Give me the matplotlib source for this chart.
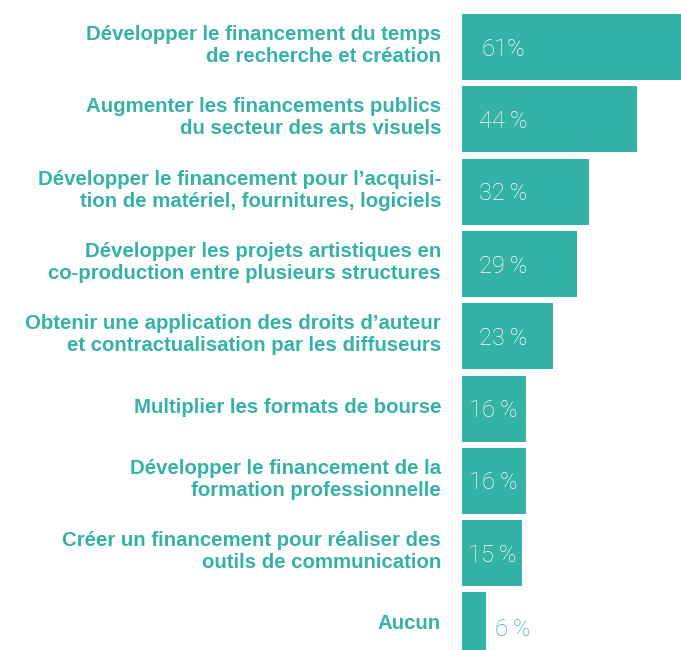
import matplotlib
matplotlib.use("Agg")
import matplotlib.pyplot as plt

categories = [
    "Développer le financement du temps\nde recherche et création",
    "Augmenter les financements publics\ndu secteur des arts visuels",
    "Développer le financement pour l’acquisi-\ntion de matériel, fournitures, logiciels",
    "Développer les projets artistiques en\nco-production entre plusieurs structures",
    "Obtenir une application des droits d’auteur\net contractualisation par les diffuseurs",
    "Multiplier les formats de bourse",
    "Développer le financement de la\nformation professionnelle",
    "Créer un financement pour réaliser des\noutils de communication",
    "Aucun",
]
values = [61, 44, 32, 29, 23, 16, 16, 15, 6]
value_labels = ["61%", "44\u2009%", "32\u2009%", "29\u2009%", "23\u2009%",
                "16\u2009%", "16\u2009%", "15\u2009%", "6\u2009%"]

TEAL = "#34b2a6"

fig = plt.figure(figsize=(6.81, 6.5), dpi=100)
ax = fig.add_axes([462 / 681, 0, 219 / 681, 1])

pitch = 72.3
top = 47 / pitch
total = 650 / pitch
ys = list(range(len(values)))
ax.barh(ys, values, height=66 / pitch, color=TEAL, left=0)
ax.set_xlim(0, 219 / 3.97)
ax.set_ylim(-top + total, -top)
ax.axis("off")

VFONT = dict(fontsize=17, family=["Roboto", "DejaVu Sans"], fontweight="light")
for y, v, lab, cat in zip(ys, values, value_labels, categories):
    if v >= 10:
        x = min(v / 2, 10.3)
        ax.text(x, y + 0.03, lab, ha="center", va="center", color="white", **VFONT)
    else:
        ax.text(v + 2.3, y + 0.05, lab, ha="left", va="center", color=TEAL, **VFONT)
    ax.text(-21 / 3.97, y - 0.02, cat, ha="right", va="center", color=TEAL,
            fontsize=14.7, fontweight="bold", family=["Liberation Sans", "DejaVu Sans"],
            linespacing=1.19, clip_on=False)

fig.savefig("out.png", dpi=100)
